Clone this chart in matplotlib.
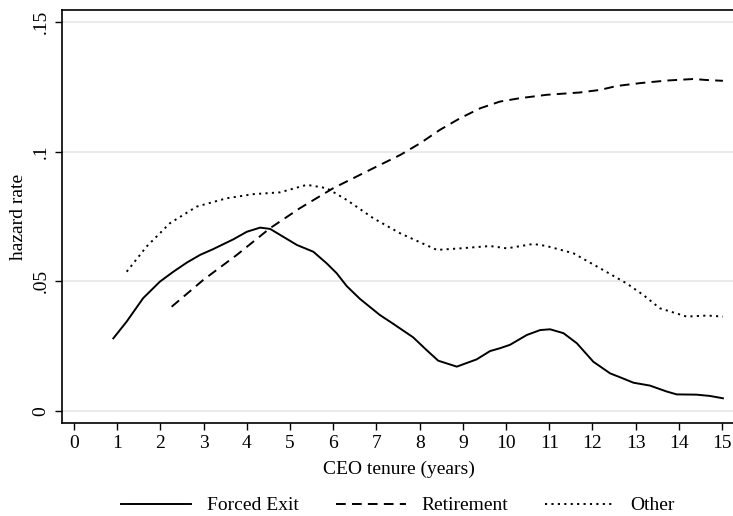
import matplotlib
matplotlib.use("Agg")
import matplotlib.pyplot as plt
import numpy as np

forced_x = [0.91, 1.22, 1.60, 1.99, 2.30, 2.61, 2.92, 3.22, 3.69, 4.00, 4.31, 4.54, 4.84, 5.16, 5.54,
            5.85, 6.08, 6.31, 6.62, 7.08, 7.39, 7.85, 8.16, 8.43, 8.86, 9.32, 9.63, 9.86, 10.09,
            10.48, 10.79, 11.02, 11.33, 11.64, 12.02, 12.41, 12.64, 12.95, 13.33, 13.72, 13.95,
            14.41, 14.72, 15.02]
forced_y = [0.0280, 0.0345, 0.0435, 0.0499, 0.0537, 0.0572, 0.0602, 0.0624, 0.0662, 0.0691, 0.0707,
            0.0702, 0.0672, 0.0640, 0.0614, 0.0569, 0.0531, 0.0482, 0.0432, 0.0370, 0.0336,
            0.0284, 0.0235, 0.0194, 0.0171, 0.0199, 0.0231, 0.0242, 0.0255, 0.0293, 0.0312,
            0.0315, 0.0300, 0.0261, 0.0190, 0.0145, 0.0130, 0.0109, 0.0098, 0.0075, 0.0064,
            0.0063, 0.0058, 0.0049]

retire_x = [2.26, 2.99, 3.77, 4.54, 5.23, 6.00, 7.00, 7.55, 8.01, 8.47, 8.94, 9.40, 9.86, 10.32,
            10.94, 11.71, 12.18, 12.56, 13.10, 13.72, 14.34, 14.65, 15.02]
retire_y = [0.0402, 0.0505, 0.0602, 0.0705, 0.0782, 0.0859, 0.0942, 0.0987, 0.1032, 0.1084, 0.1129,
            0.1167, 0.1193, 0.1206, 0.1219, 0.1228, 0.1238, 0.1253, 0.1264, 0.1274, 0.1280,
            0.1276, 0.1273]

other_x = [1.22, 1.68, 2.22, 2.84, 3.53, 4.15, 4.77, 5.39, 5.85, 6.31, 6.93, 7.55, 8.40, 8.94, 9.63,
           10.02, 10.63, 10.94, 11.56, 12.18, 12.79, 13.18, 13.56, 14.18, 14.65, 15.02]
other_y = [0.0537, 0.0634, 0.0724, 0.0788, 0.0820, 0.0836, 0.0843, 0.0872, 0.0859, 0.0814, 0.0743,
           0.0685, 0.0621, 0.0627, 0.0636, 0.0627, 0.0644, 0.0636, 0.0608, 0.0550, 0.0492,
           0.0447, 0.0396, 0.0364, 0.0368, 0.0364]

x_ticks = list(range(0, 16))
y_ticks = [0, 0.05, 0.1, 0.15]
y_tick_labels = ["0", ".05", ".1", ".15"]

plt.rcParams['font.family'] = ['Liberation Serif', 'DejaVu Serif']

fig = plt.figure(figsize=(7.33, 5.16), dpi=100)
ax = fig.add_axes([62/733, 1 - 423/516, 673/733, 413/516])

ax.plot(forced_x, forced_y, color='black', lw=1.4, ls='-', label='Forced Exit')
ax.plot(retire_x, retire_y, color='black', lw=1.4, ls=(0, (5, 3.2)), label='Retirement')
ax.plot(other_x, other_y, color='black', lw=1.4, ls=(0, (1.1, 2.2)), label='Other')

ax.set_xlim(-0.278, 15.30)
ax.set_ylim(-0.00463, 0.1546)
ax.set_xticks(x_ticks)
ax.set_xticklabels([str(t) for t in x_ticks])
ax.set_yticks(y_ticks)
ax.set_yticklabels(y_tick_labels, rotation=90, va='center')
ax.grid(axis='y', color='#e6e6e6', lw=1.2)
ax.set_axisbelow(True)
ax.tick_params(direction='out', length=5, width=1, labelsize=14, pad=4)
for s in ax.spines.values():
    s.set_linewidth(1.2)

ax.set_xlabel('CEO tenure (years)', fontsize=14, labelpad=6)
ax.set_ylabel('hazard rate', fontsize=14, labelpad=4)

fig.legend(loc='lower center', bbox_to_anchor=(0.543, -0.031), ncol=3, frameon=False,
           fontsize=14, handlelength=3.6, columnspacing=1.9, handletextpad=0.8)

fig.savefig('out.png', dpi=100)
